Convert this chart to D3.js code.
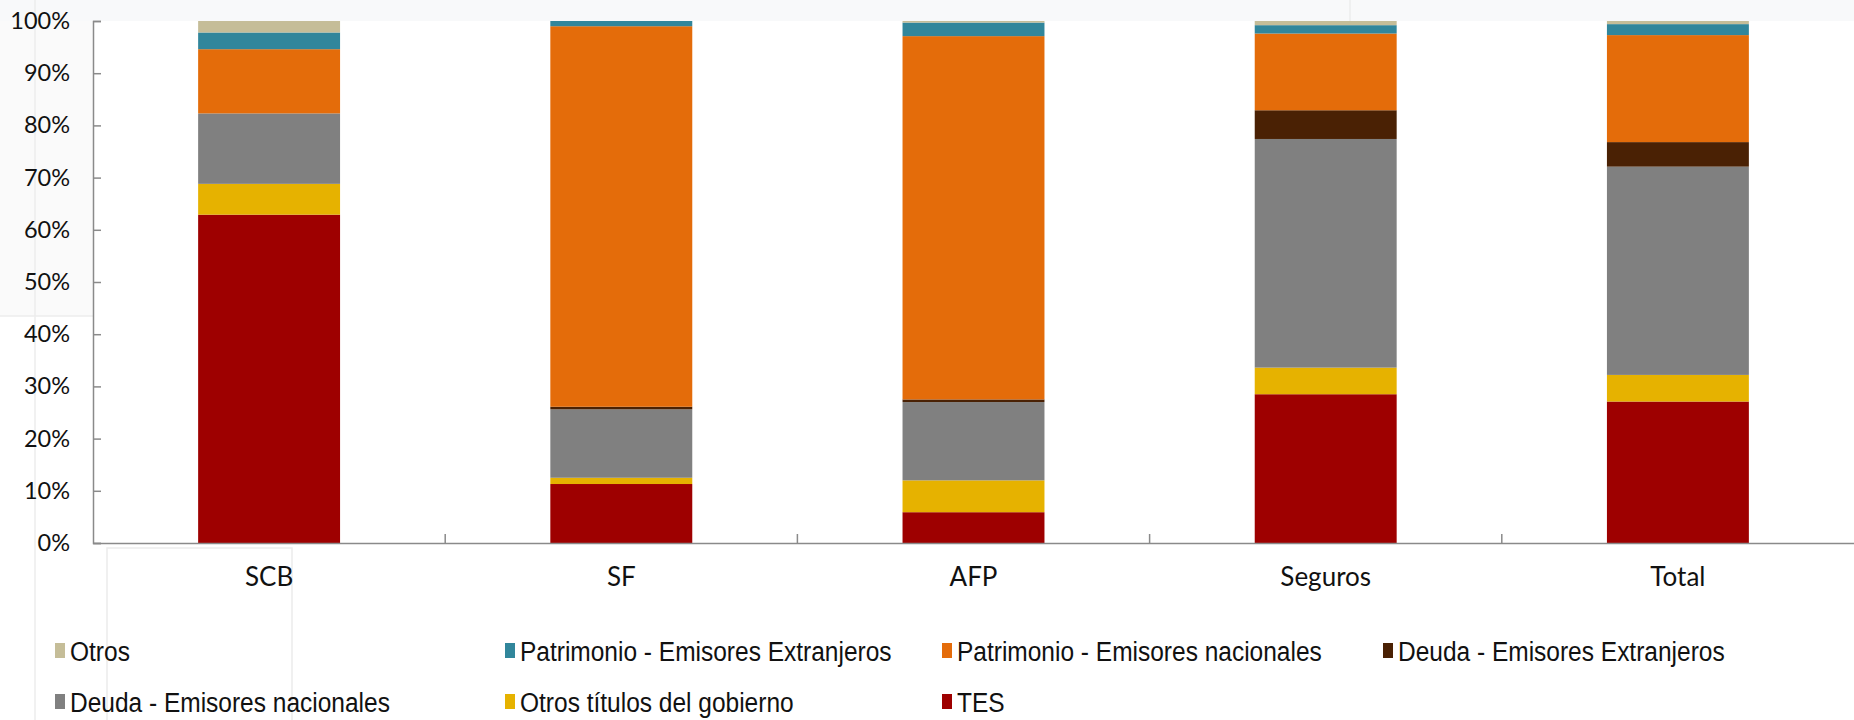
<!DOCTYPE html>
<html>
<head>
<meta charset="utf-8">
<script src="https://cdn.jsdelivr.net/npm/d3@7/dist/d3.min.js"></script>
<style>
  html, body { margin: 0; padding: 0; background: #ffffff; }
  svg { display: block; }
</style>
</head>
<body>
<svg id="chart" width="1854" height="720"></svg>
<script>
// Portfolio composition by type of institution (% of holdings)
const categories = ["SCB", "SF", "AFP", "Seguros", "Total"];

const tes            = [62.9, 11.3,  5.9, 28.5, 27.1];
const otrosTitulos   = [ 5.9,  1.2,  6.1,  5.1,  5.1];
const deudaNacional  = [13.5, 13.1, 15.0, 43.8, 39.9];
const deudaExtranj   = [ 0.0,  0.5,  0.5,  5.5,  4.7];
const patrimNacional = [12.3, 72.9, 69.6, 14.7, 20.5];
const patrimExtranj  = [ 3.2,  1.0,  2.6,  1.6,  2.1];
const otros          = [ 2.2,  0.0,  0.3,  0.8,  0.6];

const yTickValues = [0, 10, 20, 30, 40, 50, 60, 70, 80, 90, 100];

// Series from the bottom of each stack to the top
const series = [
  { key: "TES",                               values: tes,            color: "#9e0000" },
  { key: "Otros títulos del gobierno",        values: otrosTitulos,   color: "#e6b200" },
  { key: "Deuda - Emisores nacionales",       values: deudaNacional,  color: "#808080" },
  { key: "Deuda - Emisores Extranjeros",      values: deudaExtranj,   color: "#4a2104" },
  { key: "Patrimonio - Emisores nacionales",  values: patrimNacional, color: "#e46c0a" },
  { key: "Patrimonio - Emisores Extranjeros", values: patrimExtranj,  color: "#31869b" },
  { key: "Otros",                             values: otros,          color: "#c5bd98" }
];

// Legend reads from the top of the stack down
const legendOrder = ["Otros", "Patrimonio - Emisores Extranjeros", "Patrimonio - Emisores nacionales",
  "Deuda - Emisores Extranjeros", "Deuda - Emisores nacionales", "Otros títulos del gobierno", "TES"];

const W = 1854, H = 720;
const plot = { left: 93, right: 1854, top: 21, bottom: 543 };

const svg = d3.select("#chart");

// Page backdrop around the chart object
svg.append("rect").attr("x", 0).attr("y", 0).attr("width", W).attr("height", H).attr("fill", "#ffffff");
svg.append("rect").attr("x", 0).attr("y", 0).attr("width", W).attr("height", plot.top).attr("fill", "#f8f9fa");
svg.append("rect").attr("x", 0).attr("y", plot.top).attr("width", plot.left).attr("height", 316 - plot.top).attr("fill", "#fafafa");
const faint = svg.append("g").attr("stroke", "#ececec").attr("stroke-width", 1.5).attr("fill", "none");
faint.append("line").attr("x1", 35).attr("x2", 35).attr("y1", 0).attr("y2", H);
faint.append("line").attr("x1", 0).attr("x2", plot.left).attr("y1", 316).attr("y2", 316);
faint.append("polyline").attr("points", "107,720 107,548 292,548 292,720");
faint.append("line").attr("x1", 1350).attr("x2", 1350).attr("y1", 0).attr("y2", plot.top);

// Scales
const x = d3.scaleBand().domain(categories).range([plot.left, plot.right]).paddingInner(0).paddingOuter(0);
const y = d3.scaleLinear().domain([0, 100]).range([plot.bottom, plot.top]);
const barW = x.bandwidth() * 0.403;

// Stacked layout
const rows = categories.map((c, i) => {
  const r = { category: c };
  series.forEach(s => { r[s.key] = s.values[i]; });
  return r;
});
const stacked = d3.stack().keys(series.map(s => s.key))(rows);
const colorOf = Object.fromEntries(series.map(s => [s.key, s.color]));

const bars = svg.append("g");
stacked.forEach(layer => {
  bars.append("g")
    .attr("fill", colorOf[layer.key])
    .selectAll("rect")
    .data(layer)
    .join("rect")
      .attr("x", d => x(d.data.category) + (x.bandwidth() - barW) / 2)
      .attr("width", barW)
      .attr("y", d => y(d[1]))
      .attr("height", d => Math.max(0, y(d[0]) - y(d[1])));
});

// Y axis: ticks point into the plot
const yAxis = svg.append("g")
  .attr("transform", `translate(${plot.left},0)`)
  .call(d3.axisLeft(y).tickValues(yTickValues).tickFormat(d => d + "%").tickSize(-8).tickPadding(23));
yAxis.select(".domain").attr("stroke", "#8a8a8a").attr("stroke-width", 1.5);
yAxis.selectAll(".tick line").attr("stroke", "#8a8a8a").attr("stroke-width", 1.5);
yAxis.selectAll(".tick text")
  .attr("font-family", "Lato, 'Open Sans', sans-serif")
  .attr("font-size", 23.5)
  .attr("fill", "#111");

// X axis: category labels centred under bars, dividers between categories
const xAxis = svg.append("g")
  .attr("transform", `translate(0,${plot.bottom})`)
  .call(d3.axisBottom(x).tickSize(0).tickPadding(25));
xAxis.select(".domain").attr("stroke", "#8a8a8a").attr("stroke-width", 1.5);
xAxis.selectAll(".tick text")
  .attr("font-family", "Lato, 'Open Sans', sans-serif")
  .attr("font-size", 26)
  .attr("fill", "#111");
xAxis.append("g")
  .selectAll("line")
  .data(categories.slice(1))
  .join("line")
    .attr("x1", d => x(d)).attr("x2", d => x(d))
    .attr("y1", 0).attr("y2", -9)
    .attr("stroke", "#8a8a8a").attr("stroke-width", 1.5);

// Legend: condensed lettering, two rows of four columns
const legendCols = [55, 505, 942, 1383];
const legendRows = [651, 702];
const legend = svg.append("g");
legendOrder.forEach((key, i) => {
  const col = i % 4, row = Math.floor(i / 4);
  const g = legend.append("g").attr("transform", `translate(${legendCols[col]},${legendRows[row]})`);
  g.append("rect").attr("x", 0).attr("y", -8).attr("width", 10).attr("height", 15).attr("fill", colorOf[key]);
  g.append("text")
    .attr("transform", "translate(15,0) scale(0.875,1)")
    .attr("dy", "0.35em")
    .attr("font-family", "'Liberation Sans', Arial, sans-serif")
    .attr("font-size", 28)
    .attr("fill", "#111")
    .text(key);
});
</script>
</body>
</html>
